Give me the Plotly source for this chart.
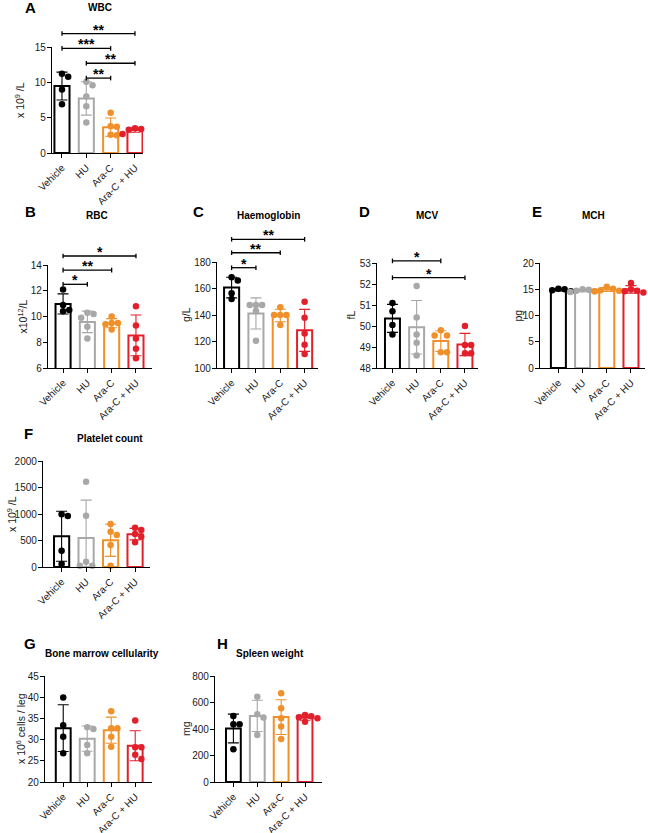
import numpy as np
import plotly.graph_objects as go

W, H = 648, 833

# ---------------- data ----------------
groups = ["Vehicle", "HU", "Ara-C", "Ara-C + HU"]

wbc = [[10.8, 11.2, 9.0, 6.9], [10.1, 9.6, 8.0, 6.6, 4.3],
       [5.7, 3.8, 3.7, 2.6, 2.5], [3.5, 3.4, 3.3, 3.3, 2.7]]
rbc = [[12.1, 10.9, 10.5, 10.4], [10.3, 10.2, 9.9, 9.2, 8.3],
       [10.0, 9.5, 9.5, 9.4, 9.0], [10.8, 9.3, 8.3, 7.5, 6.75]]
hgb = [[166, 168.5, 156.5, 152], [147.5, 147.5, 147.5, 143, 120.5],
       [145.8, 140, 140, 140, 132.5], [150, 138, 126, 117.5, 110.5]]
mcv = [[51.1, 50.7, 50.05, 49.6], [51.9, 50.4, 49.6, 49.2, 48.6],
       [49.8, 49.55, 49.55, 48.75, 48.75], [50.0, 49.1, 49.1, 48.7, 48.7]]
mch = [[15.1, 15.0, 14.8, 14.6], [15.0, 14.9, 14.7, 14.6, 14.5],
       [15.5, 15.1, 14.8, 14.7, 14.6], [16.2, 15.0, 14.7, 14.6, 14.4]]
plt_count = [[962, 994, 308, 57], [1610, 968, 100, 25, 25],
             [811, 666, 604, 415, 25], [742, 698, 623, 572, 466]]
bmc = [[39.9, 33.4, 30.7, 26.8], [32.5, 32.9, 28.7, 26.8],
       [36.7, 32.7, 32.7, 30.7, 28.3], [34.5, 28.2, 28.2, 26.4, 25.4]]
spleen = [[435, 435, 498, 247], [644, 511, 486, 355],
          [669, 556, 481, 418, 325], [506, 496, 488, 481, 455]]

# significance brackets: (group a, group b, height in data units, label)
wbc_sig = [(0, 3, 16.9, "**"), (0, 2, 14.8, "***"), (1, 3, 12.7, "**"), (1, 2, 10.6, "**")]
rbc_sig = [(0, 1, 12.5, "*"), (0, 2, 13.6, "**"), (0, 3, 14.7, "*")]
hgb_sig = [(0, 1, 175.7, "*"), (0, 2, 187, "**"), (0, 3, 197.1, "**")]
mcv_sig = [(0, 2, 53.1, "*"), (0, 3, 52.3, "*")]

# ---------------- styling / layout ----------------
colors = ["#000000", "#A8A8A8", "#F0902A", "#E2202C"]
FONT = "Liberation Sans, Arial, sans-serif"
TXT = "#1a1a1a"

panels = [
    dict(letter="A", title="WBC", ytitle="x 10<sup>9</sup> /L", data=wbc, sig=wbc_sig,
         yr=(0, 15), yt=[0, 5, 10, 15], pos=(52, 143, 47, 153), xr=(-0.41, 3.33),
         tpos=(100, 8), lpos=(30, 8), ytx=20),
    dict(letter="B", title="RBC", ytitle="x10<sup>12</sup>/L", data=rbc, sig=rbc_sig,
         yr=(6, 14), yt=[6, 8, 10, 12, 14], pos=(48, 152, 265, 368), xr=(-0.62, 3.66),
         tpos=(97, 216), lpos=(30, 211), ytx=22),
    dict(letter="C", title="Haemoglobin", ytitle="g/L", data=hgb, sig=hgb_sig,
         yr=(100, 180), yt=[100, 120, 140, 160, 180], pos=(217, 318, 262, 368), xr=(-0.6, 3.55),
         tpos=(268, 216), lpos=(198, 211), ytx=186),
    dict(letter="D", title="MCV", ytitle="fL", data=mcv, sig=mcv_sig,
         yr=(48, 53), yt=[48, 49, 50, 51, 52, 53], pos=(377, 478, 263, 368), xr=(-0.64, 3.54),
         tpos=(427, 216), lpos=(365, 211), ytx=350),
    dict(letter="E", title="MCH", ytitle="pg", data=mch, sig=[],
         yr=(0, 20), yt=[0, 5, 10, 15, 20], pos=(540, 645, 263, 368), xr=(-0.76, 3.58),
         tpos=(593, 216), lpos=(537, 211), ytx=517),
    dict(letter="F", title="Platelet count", ytitle="x 10<sup>9</sup> /L", data=plt_count, sig=[],
         yr=(0, 2000), yt=[0, 500, 1000, 1500, 2000], pos=(43, 150, 461, 567), xr=(-0.76, 3.61),
         tpos=(110, 438), lpos=(28, 433), ytx=11),
    dict(letter="G", title="Bone marrow cellularity", ytitle="x 10<sup>6</sup> cells / leg", data=bmc, sig=[],
         yr=(20, 45), yt=[20, 25, 30, 35, 40, 45], pos=(45, 152, 676, 782), xr=(-0.76, 3.7),
         tpos=(102, 653), lpos=(30, 643), ytx=20),
    dict(letter="H", title="Spleen weight", ytitle="mg", data=spleen, sig=[],
         yr=(0, 800), yt=[0, 200, 400, 600, 800], pos=(215, 322, 676, 782), xr=(-0.77, 3.71),
         tpos=(270, 653), lpos=(222, 643), ytx=186),
]


def swarm(vals, ppu, ppc, d=6.2):
    """simple beeswarm: horizontal offsets (category units) so dots don't overlap"""
    placed = []
    res = [0.0] * len(vals)
    order = sorted(range(len(vals)), key=lambda k: -vals[k])
    for k in order:
        y = vals[k] * ppu
        for step in [0, 1, -1, 2, -2, 3, -3]:
            x = step * d
            if all((x - px) ** 2 + (y - py) ** 2 >= (0.95 * d) ** 2 for px, py in placed):
                break
        placed.append((x, y))
        res[k] = x / ppc
    return res


fig = go.Figure()
shapes = []
annotations = []

for i, p in enumerate(panels):
    sfx = "" if i == 0 else str(i + 1)
    xa, ya = "x" + sfx, "y" + sfx
    left, right, top, bot = p["pos"]
    y0, y1 = p["yr"]
    x0, x1 = p["xr"]
    ppu = (bot - top) / (y1 - y0)
    ppc = (right - left) / (x1 - x0)

    def pxx(v):
        return left + (v - x0) * ppc

    def pxy(v):
        return bot - (v - y0) * ppu

    for g, vals in enumerate(p["data"]):
        arr = np.array(vals, dtype=float)
        mean = arr.mean()
        sd = arr.std(ddof=1)
        fig.add_trace(go.Bar(
            x=[g], y=[mean], base=0, width=0.62,
            marker=dict(color="white", line=dict(color=colors[g], width=2)),
            error_y=dict(type="data", array=[sd], visible=True, color=colors[g],
                         thickness=1.1, width=5.5),
            xaxis=xa, yaxis=ya, showlegend=False, hoverinfo="skip"))
        offs = swarm(vals, ppu, ppc)
        fig.add_trace(go.Scatter(
            x=[g + o for o in offs], y=vals, mode="markers",
            marker=dict(color=colors[g], size=6.5, line=dict(width=0)),
            cliponaxis=False, xaxis=xa, yaxis=ya, showlegend=False, hoverinfo="skip"))

    dom_x = [left / W, right / W]
    dom_y = [1 - bot / H, 1 - top / H]
    axis_common = dict(showgrid=False, zeroline=False, showline=True, linecolor="black",
                       linewidth=1.3, ticks="outside", ticklen=4, tickwidth=1.2,
                       tickcolor="black", automargin=False,
                       tickfont=dict(family=FONT, size=10, color=TXT))
    fig.layout["xaxis" + sfx] = dict(domain=dom_x, range=[x0, x1], anchor=ya,
                                     tickvals=[0, 1, 2, 3], ticktext=groups, tickangle=-45,
                                     **axis_common)
    fig.layout["yaxis" + sfx] = dict(domain=dom_y, range=[y0, y1], anchor=xa,
                                     tickvals=p["yt"], ticklabelstandoff=-1, **axis_common)

    # significance brackets (drawn above the plotting area in paper coordinates)
    for a, b, h, lab in p["sig"]:
        xa_px, xb_px, yy = pxx(a), pxx(b), pxy(h)
        shapes.append(dict(type="line", xref="paper", yref="paper",
                           x0=xa_px / W, x1=xb_px / W, y0=1 - yy / H, y1=1 - yy / H,
                           line=dict(color="black", width=1.3)))
        for xe in (xa_px, xb_px):
            shapes.append(dict(type="line", xref="paper", yref="paper",
                               x0=xe / W, x1=xe / W, y0=1 - (yy - 2.3) / H, y1=1 - (yy + 2.3) / H,
                               line=dict(color="black", width=1.3)))
        annotations.append(dict(text=lab, xref="paper", yref="paper",
                                x=(xa_px + xb_px) / 2 / W, y=1 - (yy - 4) / H,
                                xanchor="center", yanchor="middle", showarrow=False,
                                font=dict(family=FONT, size=14, color="black", weight="bold")))

    # title, panel letter, y title
    annotations.append(dict(text="<b>%s</b>" % p["title"], xref="paper", yref="paper",
                            x=p["tpos"][0] / W, y=1 - p["tpos"][1] / H, xanchor="center",
                            yanchor="middle", showarrow=False,
                            font=dict(family=FONT, size=10, color="black")))
    annotations.append(dict(text="<b>%s</b>" % p["letter"], xref="paper", yref="paper",
                            x=p["lpos"][0] / W, y=1 - p["lpos"][1] / H, xanchor="center",
                            yanchor="middle", showarrow=False,
                            font=dict(family=FONT, size=15, color="black")))
    annotations.append(dict(text=p["ytitle"], xref="paper", yref="paper",
                            x=p["ytx"] / W, y=1 - (top + bot) / 2 / H, xanchor="center",
                            yanchor="middle", textangle=-90, showarrow=False,
                            font=dict(family=FONT, size=10.5, color=TXT)))

fig.update_layout(template="none", width=W, height=H, margin=dict(l=0, r=0, t=0, b=0),
                  paper_bgcolor="white", plot_bgcolor="white", showlegend=False,
                  barmode="overlay", shapes=shapes, annotations=annotations,
                  font=dict(family=FONT))

# the page body has a default 8px margin; remove it so the figure sits at the window origin
fig.write_html("out.html", config={"displayModeBar": False},
               post_script="document.body.style.margin='0px';")
